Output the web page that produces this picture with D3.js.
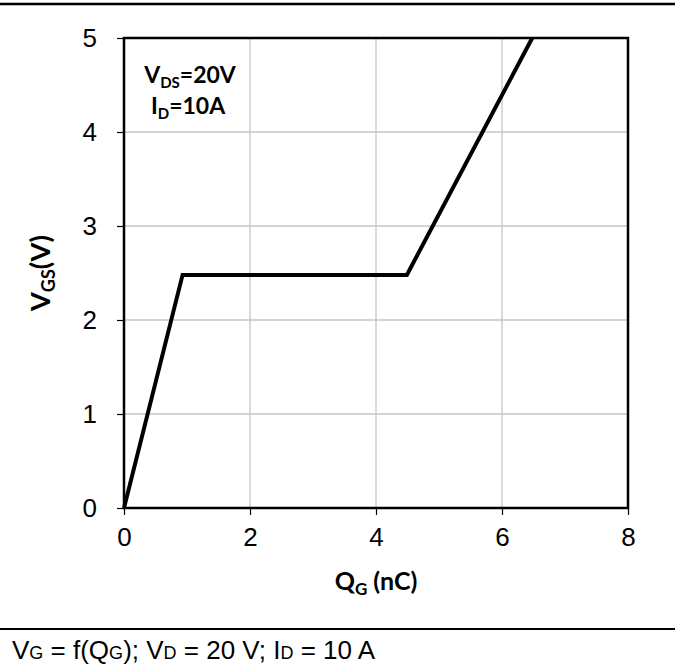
<!DOCTYPE html>
<html><head><meta charset="utf-8">
<script src="https://cdn.jsdelivr.net/npm/d3@7"></script>
<style>body{margin:0;background:#fff}svg{display:block}</style>
</head><body>
<svg id="c" width="675" height="668"></svg>
<script>
const qg = [0, 0.93, 4.49, 6.48];
const vgs = [0, 2.48, 2.48, 5];
const xTicks = [0, 2, 4, 6, 8];
const yTicks = [0, 1, 2, 3, 4, 5];

const svg = d3.select("#c");
const x = d3.scaleLinear().domain([0, 8]).range([124, 628]);
const y = d3.scaleLinear().domain([0, 5]).range([508, 38]);

// top & bottom rules
svg.append("line").attr("x1",0).attr("x2",675).attr("y1",4).attr("y2",4).attr("stroke","#000").attr("stroke-width",2.5);
svg.append("line").attr("x1",0).attr("x2",675).attr("y1",629).attr("y2",629).attr("stroke","#000").attr("stroke-width",2);

// grid
svg.append("g").selectAll("line").data(xTicks.slice(1,-1)).join("line")
  .attr("x1",d=>x(d)).attr("x2",d=>x(d)).attr("y1",y(0)).attr("y2",y(5))
  .attr("stroke","#c6c6c6").attr("stroke-width",1.3);
svg.append("g").selectAll("line").data(yTicks.slice(1,-1)).join("line")
  .attr("x1",x(0)).attr("x2",x(8)).attr("y1",d=>y(d)).attr("y2",d=>y(d))
  .attr("stroke","#c6c6c6").attr("stroke-width",1.3);

// axes
const xa = svg.append("g").attr("transform",`translate(0,${y(0)})`)
  .call(d3.axisBottom(x).tickValues(xTicks).tickSize(7).tickPadding(13).tickFormat(d3.format("d")));
const ya = svg.append("g").attr("transform",`translate(${x(0)},0)`)
  .call(d3.axisLeft(y).tickValues(yTicks).tickSize(7).tickPadding(20).tickFormat(d3.format("d")));
[xa, ya].forEach(a=>{
  a.select(".domain").remove();
  a.selectAll("line").attr("stroke","#000").attr("stroke-width",1.2);
  a.selectAll("text").attr("font-family","Liberation Sans, Arial, sans-serif").attr("font-size",26).attr("fill","#000");
});

// border
svg.append("rect").attr("x",x(0)).attr("y",y(5)).attr("width",x(8)-x(0)).attr("height",y(0)-y(5))
  .attr("fill","none").attr("stroke","#000").attr("stroke-width",2.5);

// data line
const pts = qg.map((q,i)=>[q, vgs[i]]);
svg.append("path").datum(pts)
  .attr("d", d3.line().x(d=>x(d[0])).y(d=>y(d[1])))
  .attr("fill","none").attr("stroke","#000").attr("stroke-width",4).attr("stroke-linejoin","miter");

// axis titles
const bf = "Lato, 'Open Sans', sans-serif";
const xt = svg.append("text").attr("x",376).attr("y",590).attr("text-anchor","middle")
  .attr("font-family",bf).attr("font-weight","bold").attr("font-size",25);
xt.append("tspan").text("Q");
xt.append("tspan").attr("font-size",17).attr("dy",5).text("G");
xt.append("tspan").attr("dy",-5).text(" (nC)");

const yt = svg.append("text").attr("transform","translate(50,273) rotate(-90)").attr("text-anchor","middle")
  .attr("font-family",bf).attr("font-weight","bold").attr("font-size",27);
yt.append("tspan").text("V");
yt.append("tspan").attr("font-size",18).attr("dy",5).text("GS");
yt.append("tspan").attr("dy",-5).text("(V)");

// annotation
const a1 = svg.append("text").attr("x",190).attr("y",83).attr("text-anchor","middle")
  .attr("font-family",bf).attr("font-weight","bold").attr("font-size",23);
a1.append("tspan").text("V");
a1.append("tspan").attr("font-size",15).attr("dy",5).text("DS");
a1.append("tspan").attr("dy",-5).text("=20V");
const a2 = svg.append("text").attr("x",188).attr("y",114).attr("text-anchor","middle")
  .attr("font-family",bf).attr("font-weight","bold").attr("font-size",23);
a2.append("tspan").text("I");
a2.append("tspan").attr("font-size",15).attr("dy",5).text("D");
a2.append("tspan").attr("dy",-5).text("=10A");

// caption
const cap = svg.append("text").attr("x",12).attr("y",659)
  .attr("font-family","Liberation Sans, Arial, sans-serif").attr("font-size",26).attr("fill","#000");
const parts = [["V",0],["G",1],[" = f(Q",0],["G",1],["); V",0],["D",1],[" = 20 V; I",0],["D",1],[" = 10 A",0]];
parts.forEach(([t,s])=>cap.append("tspan").attr("font-size", s?18:26).text(t));
</script>
</body></html>
